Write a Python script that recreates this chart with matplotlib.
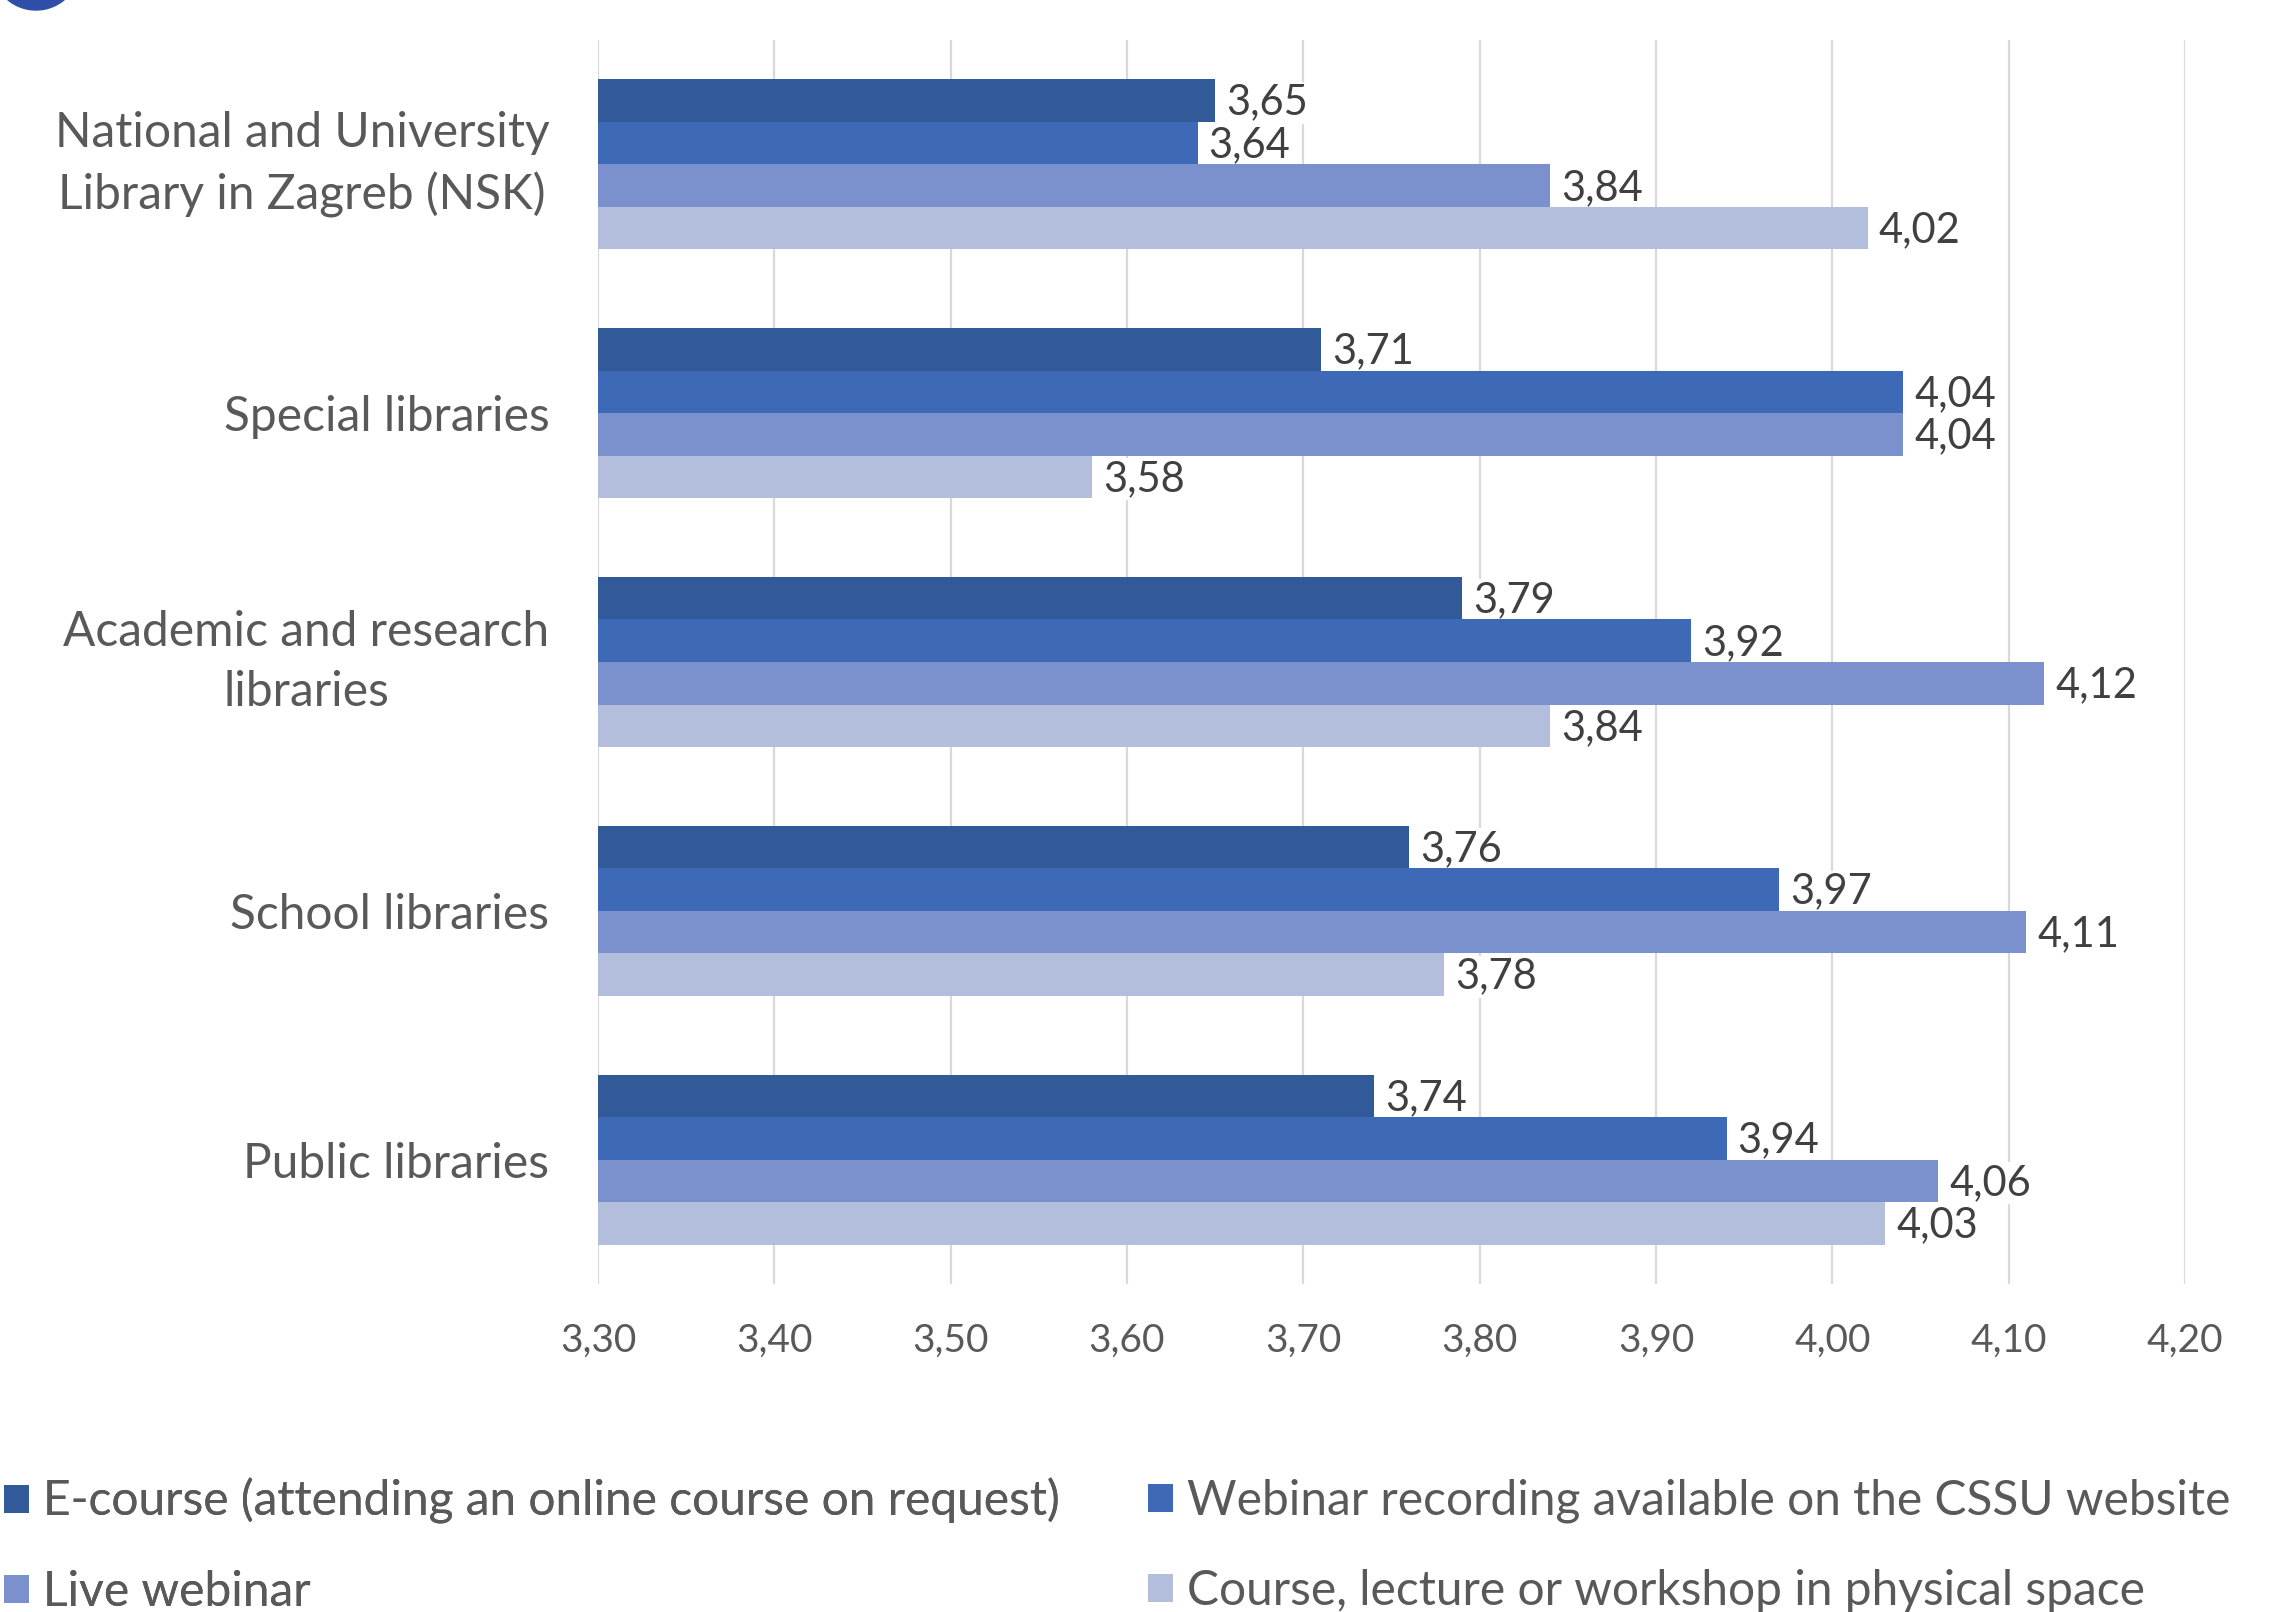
import numpy as np
import matplotlib.pyplot as plt
from matplotlib.patches import Ellipse

plt.rcParams['font.family'] = ['Lato', 'DejaVu Sans']

categories = ['National and University\nLibrary in Zagreb (NSK)', 'Special libraries',
              'Academic and research\nlibraries', 'School libraries', 'Public libraries']
series_names = ['E-course (attending an online course on request)',
                'Webinar recording available on the CSSU website',
                'Live webinar',
                'Course, lecture or workshop in physical space']
ecourse = [3.65, 3.71, 3.79, 3.76, 3.74]
recording = [3.64, 4.04, 3.92, 3.97, 3.94]
live = [3.84, 4.04, 4.12, 4.11, 4.06]
physical = [4.02, 3.58, 3.84, 3.78, 4.03]
xticks = [3.30, 3.40, 3.50, 3.60, 3.70, 3.80, 3.90, 4.00, 4.10, 4.20]

colors = ['#335a98', '#3e69b6', '#7a91cd', '#b3bedd']
series = [ecourse, recording, live, physical]

fig = plt.figure(figsize=(22.78, 16.12), dpi=100)
ax = fig.add_axes([598 / 2278, 1 - 1284 / 1612, (2185 - 598) / 2278, (1284 - 40) / 1612])

y = np.arange(len(categories))
h = 0.171
bars = []
for i, (vals, c) in enumerate(zip(series, colors)):
    pos = y - 1.5 * h + i * h
    b = ax.barh(pos, np.array(vals) - 3.30, left=3.30, height=h, color=c, zorder=2)
    bars.append(b)
    for p, v in zip(pos, vals):
        # label box hides the gridlines but stays behind the bars
        ax.annotate(f'{v:.2f}'.replace('.', ','), (v, p), xytext=(8, -1.5),
                    textcoords='offset points', va='center', ha='left',
                    fontsize=30, color='#404040', zorder=1.5,
                    bbox=dict(boxstyle='square,pad=0.05', fc='white', ec='none'))

ax.set_xlim(3.30, 4.20)
ax.set_ylim(len(categories) - 0.5, -0.5)
ax.set_xticks(xticks)
ax.set_xticklabels([f'{t:.2f}'.replace('.', ',') for t in xticks], fontsize=28, color='#595959')
ax.set_yticks(y)
ax.set_yticklabels(categories, fontsize=34.5, color='#595959', linespacing=1.45)
for lbl in ax.get_yticklabels():
    lbl.set_multialignment('center')
    if '\n' in lbl.get_text():
        lbl.set_va('center')
ax.tick_params(axis='x', length=0, pad=28)
ax.tick_params(axis='y', length=0, pad=35)
ax.grid(axis='x', color='#d9d9d9', lw=1.6, zorder=0)
ax.set_axisbelow(True)
for s in ax.spines.values():
    s.set_visible(False)

# legend in two separate columns
leg_kw = dict(loc='center left', frameon=False, fontsize=34.5, labelcolor='#595959',
              handlelength=0.52, handleheight=0.52, handletextpad=0.3,
              labelspacing=0.95, borderaxespad=0, borderpad=0)
leg1 = fig.legend([bars[0], bars[2]], [series_names[0], series_names[2]],
                  bbox_to_anchor=(4 / 2278, 1 - 1546 / 1612), **leg_kw)
leg2 = fig.legend([bars[1], bars[3]], [series_names[1], series_names[3]],
                  bbox_to_anchor=(1148 / 2278, 1 - 1546 / 1612), **leg_kw)
fig.add_artist(leg1)

# clipped circle at the top left corner
fig.patches.append(Ellipse((36 / 2278, 1 + 34 / 1612), 88 / 2278, 88 / 1612,
                           transform=fig.transFigure, color='#2f4ea8'))

fig.savefig('out.png', dpi=100, facecolor='white')
